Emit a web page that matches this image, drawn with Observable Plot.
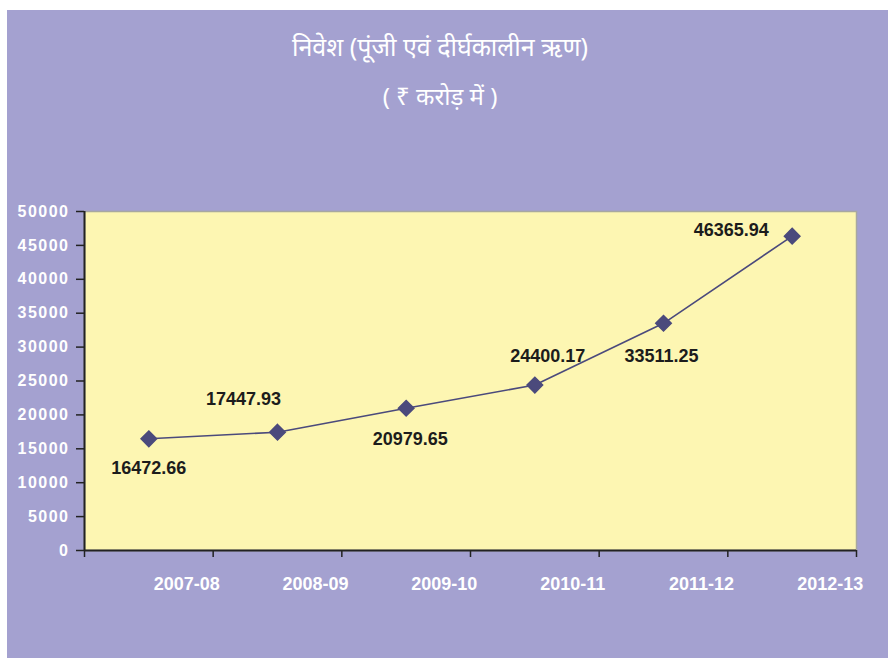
<!DOCTYPE html>
<html>
<head>
<meta charset="utf-8">
<script src="https://cdn.jsdelivr.net/npm/d3@7"></script>
<script src="https://cdn.jsdelivr.net/npm/@observablehq/plot@0.6"></script>
<style>
  html, body { margin: 0; padding: 0; background: #ffffff; }
  #panel {
    position: absolute; left: 7px; top: 10px; width: 881px; height: 648px;
    background: #a4a1d0; overflow: hidden;
  }
  #titles { height: 140px; position: relative; color: #ffffff; text-align: center;
    font-family: "Noto Sans", "Liberation Sans", sans-serif; }
  #t1 { position: absolute; left: 0; width: 866px; top: 20px; font-size: 25px; line-height: 32px; }
  #t2 { position: absolute; left: 0; width: 866px; top: 70px; font-size: 24px; line-height: 32px; }
  g[aria-label="y-axis tick label"] text { letter-spacing: 1.5px; }
</style>
</head>
<body>
<div id="panel">
  <div id="titles">
    <div id="t1">निवेश (पूंजी एवं दीर्घकालीन ऋण)</div>
    <div id="t2">( ₹ करोड़ में )</div>
  </div>
  <div id="chart"></div>
</div>
<script>
const years = ["2007-08", "2008-09", "2009-10", "2010-11", "2011-12", "2012-13"];
const values = [16472.66, 17447.93, 20979.65, 24400.17, 33511.25, 46365.94];
const valueLabels = ["16472.66", "17447.93", "20979.65", "24400.17", "33511.25", "46365.94"];
const yTicks = [0, 5000, 10000, 15000, 20000, 25000, 30000, 35000, 40000, 45000, 50000];

// label placement offsets (pixels), styling only
const labelDx = [0, -34, 4, 13, -2, -61];
const labelDy = [29, -33, 31, -29, 33, -6];

const idx = years.map((d, i) => i);
const lineColor = "#4b4a7c";

const labelMarks = idx.map(i => Plot.text([i], {
  x: j => j + 0.5, y: j => values[j], text: j => valueLabels[j],
  dx: labelDx[i], dy: labelDy[i],
  fill: "#1c1c1c", fontWeight: "bold", fontSize: 18,
  fontFamily: "Liberation Sans, Arial, sans-serif"
}));

const chart = Plot.plot({
  width: 881,
  height: 508,
  marginLeft: 77,
  marginRight: 32,
  marginTop: 61,
  marginBottom: 108,
  style: { background: "transparent", fontFamily: "Liberation Sans, Arial, sans-serif", overflow: "visible" },
  x: { type: "linear", domain: [0, years.length], axis: null },
  y: { domain: [0, 50000], axis: null },
  marks: [
    Plot.frame({ fill: "#fdf6b2", stroke: "#a8a8a0", strokeWidth: 1.5 }),
    Plot.axisX({ ticks: d3.range(years.length + 1), tickFormat: () => "", tickSize: 7, stroke: "#222", strokeWidth: 1.5 }),
    Plot.axisY({ ticks: yTicks, tickFormat: d => String(d), tickSize: 8, tickPadding: 7,
      stroke: "#222", strokeWidth: 1.5, fill: "#ffffff", fontWeight: "bold", fontSize: 16 }),
    Plot.ruleX([0], { stroke: "#222", strokeWidth: 2 }),
    Plot.ruleY([0], { stroke: "#222", strokeWidth: 2 }),
    Plot.text(idx, { x: i => i + 0.5, y: 0, text: i => years[i], dx: 38, dy: 34,
      fill: "#ffffff", fontWeight: "bold", fontSize: 18, fontFamily: "Liberation Sans, Arial, sans-serif" }),
    Plot.line(idx, { x: i => i + 0.5, y: i => values[i], stroke: lineColor, strokeWidth: 1.6 }),
    Plot.dot(idx, { x: i => i + 0.5, y: i => values[i], symbol: "diamond2", r: 7, fill: lineColor, stroke: lineColor }),
    ...labelMarks
  ]
});
document.getElementById("chart").appendChild(chart);
</script>
</body>
</html>
